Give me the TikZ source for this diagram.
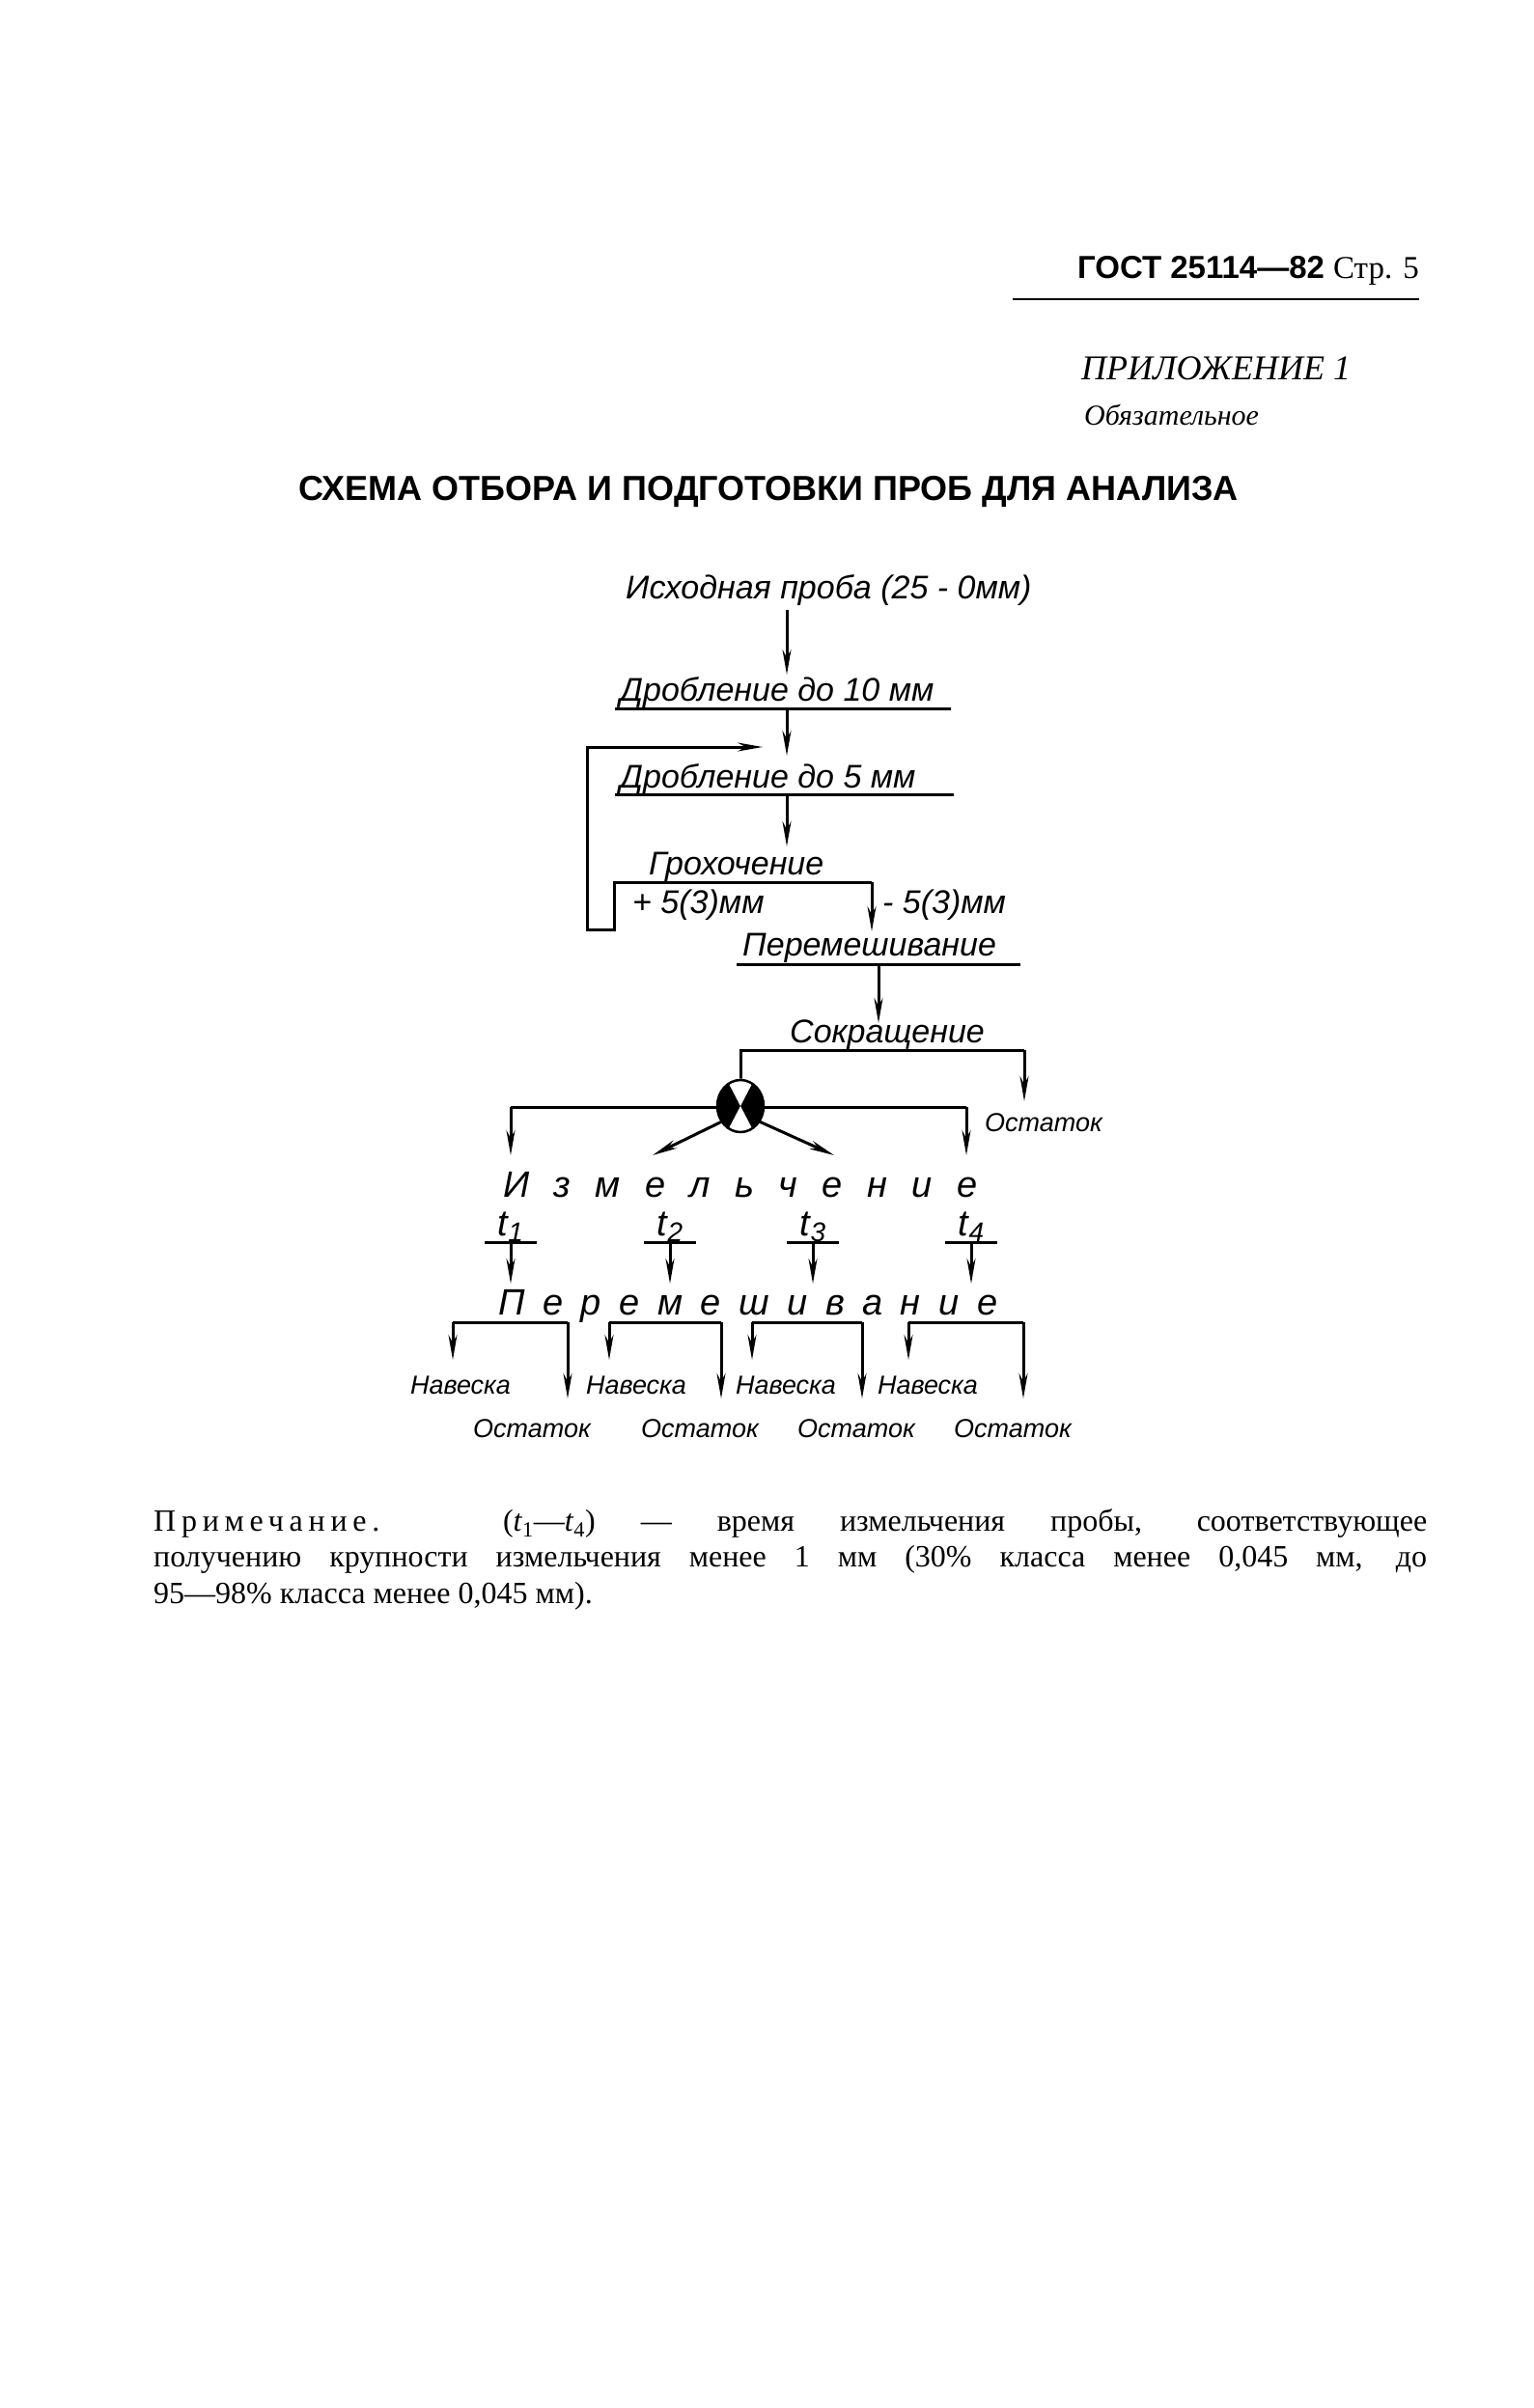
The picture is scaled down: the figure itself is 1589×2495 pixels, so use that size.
\documentclass[tikz,border=0pt]{standalone}
\usepackage{fontspec}
\setmainfont{Liberation Serif}
\newfontfamily\hw{Liberation Sans}
\newfontfamily\hsans{Liberation Sans}
\usetikzlibrary{arrows.meta}
\tikzset{
 lab/.style={inner sep=0pt,font=\hw\itshape\fontsize{34}{38}\selectfont},
 slab/.style={inner sep=0pt,font=\hw\itshape\fontsize{27}{30}\selectfont},
 ln/.style={line width=3pt},
 arr/.style={line width=3pt,-{Stealth[length=26pt,width=9pt]}},
}
\begin{document}
\begin{tikzpicture}[x=1pt,y=-1pt]
\useasboundingbox (0,0) rectangle (1589,2495);
% header
\node[anchor=base east,inner sep=0pt] (hdr) at (1470,288) {\hsans\bfseries\fontsize{33}{36}\selectfont ГОСТ 25114—82 \mdseries\rmfamily Стр. 5};
\coordinate (h1) at (1049,310); \coordinate (h2) at (1470,310);
\draw[line width=2.5pt] (h1) -- (h2);
\node[anchor=base west,inner sep=0pt] (app) at (1120,393) {\itshape\fontsize{36}{40}\selectfont ПРИЛОЖЕНИЕ 1};
\node[anchor=base west,inner sep=0pt] (obl) at (1123,440) {\itshape\fontsize{30}{34}\selectfont Обязательное};
\node[anchor=base,inner sep=0pt] (title) at (796,518) {\hsans\bfseries\fontsize{36}{40}\selectfont СХЕМА ОТБОРА И ПОДГОТОВКИ ПРОБ ДЛЯ АНАЛИЗА};
% diagram
\node[lab,anchor=base west] (src) at (648,620) {Исходная проба (25 - 0мм)};
\coordinate (a1) at (815,632); \coordinate (a2) at (815,699);
\draw[arr] (a1) -- (a2);
\node[lab,anchor=base west] (d10) at (642,726) {Дробление до 10 мм};
\coordinate (u1a) at (637,734); \coordinate (u1b) at (985,734);
\draw[ln] (u1a) -- (u1b);
\coordinate (a3) at (815,734); \coordinate (a4) at (815,783);
\draw[arr] (a3) -- (a4);
\node[lab,anchor=base west] (d5) at (642,816) {Дробление до 5 мм};
\coordinate (u2a) at (637,823); \coordinate (u2b) at (988,823);
\draw[ln] (u2a) -- (u2b);
\coordinate (a5) at (815,823); \coordinate (a6) at (815,877);
\draw[arr] (a5) -- (a6);
\node[lab,anchor=base west] (gr) at (672,906) {Грохочение};
\coordinate (g0) at (903,914); \coordinate (g1) at (903,965);
\coordinate (l1) at (636,914); \coordinate (l2) at (636,963);
\coordinate (l3) at (608,963); \coordinate (l4) at (608,774); \coordinate (l5) at (790,774);
\draw[arr] (g0) -- (g1);
\draw[arr] (g0) -- (l1) -- (l2) -- (l3) -- (l4) -- (l5);
\node[lab,anchor=base west] (pl) at (655,946) {+ 5(3)мм};
\node[lab,anchor=base west] (mi) at (914,946) {- 5(3)мм};
\node[lab,anchor=base west] (pm) at (769,990) {Перемешивание};
\coordinate (u3a) at (763,999); \coordinate (u3b) at (1057,999);
\draw[ln] (u3a) -- (u3b);
\coordinate (a7) at (910,999); \coordinate (a8) at (910,1060);
\draw[arr] (a7) -- (a8);
\node[lab,anchor=base west] (sk) at (818,1080) {Сокращение};
\coordinate (s1) at (767,1088); \coordinate (s2) at (1061,1088); \coordinate (s3) at (1061,1141);
\coordinate (s0) at (767,1118);
\draw[ln] (s0) -- (s1) -- (s2);
\draw[arr] (s2) -- (s3);
\node[slab,anchor=base west] (ost0) at (1020,1172) {Остаток};
% divider symbol
\coordinate (c) at (767,1146);
\coordinate (m1) at (529,1147); \coordinate (m2) at (1001,1147);
\coordinate (m1d) at (529,1197); \coordinate (m2d) at (1001,1197);
\draw[ln] (m1) -- (m2);
\draw[arr] (m1) -- (m1d);
\draw[arr] (m2) -- (m2d);
\coordinate (dg1) at (752,1160); \coordinate (dg2) at (676,1197);
\coordinate (dg3) at (782,1160); \coordinate (dg4) at (864,1197);
\draw[arr] (dg1) -- (dg2);
\draw[arr] (dg3) -- (dg4);
\fill[black] (c) ellipse [x radius=24,y radius=27];
\fill[white] (c) -- ++(-13,-25) arc[start angle=240,end angle=300,radius=26] -- cycle;
\fill[white] (c) -- ++(13,25) arc[start angle=60,end angle=120,radius=26] -- cycle;
\draw[line width=2.5pt] (c) ellipse [x radius=24,y radius=27];
\node[anchor=base west,inner sep=0pt,font=\hw\itshape\fontsize{38}{42}\selectfont] (izm) at (521,1240) {\makebox[491pt][s]{И\hfill з\hfill м\hfill е\hfill л\hfill ь\hfill ч\hfill е\hfill н\hfill и\hfill е}};
% t nodes
\foreach \n/\x in {1/529,2/694,3/842,4/1006}{
  \node[anchor=base,inner sep=0pt,font=\hw\itshape\fontsize{38}{42}\selectfont] (t\n) at (\x,1280) {t\raisebox{-6pt}{\fontsize{28}{30}\selectfont\n}};
  \coordinate (tl\n) at (\x-27,1287); \coordinate (tr\n) at (\x+27,1287);
  \coordinate (tu\n) at (\x,1287); \coordinate (td\n) at (\x,1330);
  \draw[ln] (tl\n) -- (tr\n);
  \draw[arr] (tu\n) -- (td\n);
}
\node[anchor=base west,inner sep=0pt,font=\hw\itshape\fontsize{38}{42}\selectfont] (per) at (516,1362) {\makebox[517pt][s]{П\hfill е\hfill р\hfill е\hfill м\hfill е\hfill ш\hfill и\hfill в\hfill а\hfill н\hfill и\hfill е}};
\foreach \n/\xa/\xb/\na/\nb in {1/469/588/477/551,2/631/747/659/725,3/779/893/814/887,4/941/1060/961/1049}{
  \coordinate (bl\n) at (\xa,1370); \coordinate (br\n) at (\xb,1370);
  \coordinate (bld\n) at (\xa,1409); \coordinate (brd\n) at (\xb,1449);
  \draw[ln] (bl\n) -- (br\n);
  \draw[arr] (bl\n) -- (bld\n);
  \draw[arr] (br\n) -- (brd\n);
  \node[slab,anchor=base] (nav\n) at (\na,1444) {Навеска};
  \node[slab,anchor=base] (ost\n) at (\nb,1489) {Остаток};
}
% note
\node[anchor=north west,inner sep=0pt] (note) at (159,1563) {\parbox{1319pt}{\fontsize{32}{37.5}\selectfont {\addfontfeature{LetterSpace=18}Примечание.} (\textit{t}\textsubscript{1}—\textit{t}\textsubscript{4}) — время измельчения пробы, соответствующее\linebreak получению крупности измельчения менее 1 мм (30\% класса менее 0,045 мм, до\linebreak 95—98\% класса менее 0,045 мм).}};
\end{tikzpicture}
\end{document}
